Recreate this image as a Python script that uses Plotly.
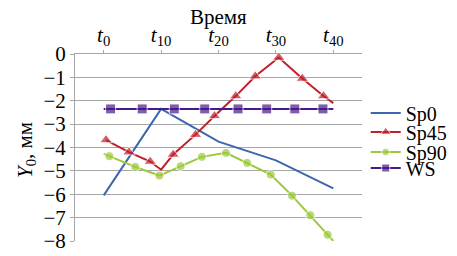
import plotly.graph_objects as go

# ---- data ----
t_ticks = [0, 10, 20, 30, 40]
t_labels = ["<i>t</i><sub>0</sub>", "<i>t</i><sub>10</sub>", "<i>t</i><sub>20</sub>",
            "<i>t</i><sub>30</sub>", "<i>t</i><sub>40</sub>"]
y_ticks = [0, -1, -2, -3, -4, -5, -6, -7, -8]

sp0_t = [0, 10, 20, 30, 40]
sp0_y = [-6.05, -2.35, -3.75, -4.55, -5.75]

sp45_t = [0.4, 4.4, 8.1, 10, 12.1, 16, 19.3, 23, 26.4, 30.5, 34.6, 38.3, 40]
sp45_y = [-3.68, -4.2, -4.6, -4.95, -4.3, -3.45, -2.65, -1.8, -0.95, -0.15, -1.05, -1.8, -2.1]
sp45_marked = [1, 1, 1, 0, 1, 1, 1, 1, 1, 1, 1, 1, 0]

sp90_t = [0, 1, 5.5, 9.7, 13.4, 17.1, 21.3, 25, 29.1, 32.8, 36, 39, 40]
sp90_y = [-4.27, -4.37, -4.83, -5.2, -4.8, -4.4, -4.23, -4.66, -5.16, -6.06, -6.9, -7.73, -8.0]
sp90_marked = [0, 1, 1, 1, 1, 1, 1, 1, 1, 1, 1, 1, 0]

ws_t = [0, 1.2, 6.7, 12.3, 17.6, 23.4, 28.4, 33.3, 38.2, 40]
ws_y = [-2.35, -2.35, -2.35, -2.35, -2.35, -2.35, -2.35, -2.35, -2.35, -2.35]
ws_marked = [0, 1, 1, 1, 1, 1, 1, 1, 1, 0]

FONT = "Liberation Serif"
C_SP0 = "#3D66B0"
C_SP45 = "#C0202A"
C_SP90 = "#9BC93A"
C_WS = "#47198A"
GRID = "#A6A6A6"

fig = go.Figure()
fig.add_trace(go.Scatter(x=sp0_t, y=sp0_y, name="Sp0", mode="lines",
                         line=dict(color=C_SP0, width=2), legend="legend",
                         showlegend=True, cliponaxis=False))
fig.add_trace(go.Scatter(x=sp45_t, y=sp45_y, name="Sp45", mode="lines+markers",
                         line=dict(color=C_SP45, width=2),
                         marker=dict(symbol="triangle-up", color=C_SP45,
                                     size=[11 * m for m in sp45_marked]),
                         legend="legend2", showlegend=True, cliponaxis=False))
fig.add_trace(go.Scatter(x=sp90_t, y=sp90_y, name="Sp90", mode="lines+markers",
                         line=dict(color=C_SP90, width=2),
                         marker=dict(symbol="circle", color=C_SP90,
                                     size=[9 * m for m in sp90_marked]),
                         legend="legend3", showlegend=True, cliponaxis=False))
fig.add_trace(go.Scatter(x=ws_t, y=ws_y, name="WS", mode="lines+markers",
                         line=dict(color=C_WS, width=2),
                         marker=dict(symbol="square", color=C_WS,
                                     size=[10 * m for m in ws_marked]),
                         legend="legend4", showlegend=True, cliponaxis=False))

H0, H1 = 46, 233  # plot area top/bottom in px


def py(pix):
    return (H1 - pix) / (H1 - H0)


leg_common = dict(x=1.013, xanchor="left", yanchor="middle",
                  font=dict(family=FONT, size=20, color="black"),
                  bgcolor="rgba(0,0,0,0)", borderwidth=0, itemwidth=30)

fig.update_layout(
    width=457, height=256,
    showlegend=True,
    margin=dict(l=67, r=90, t=46, b=23),
    paper_bgcolor="white", plot_bgcolor="white",
    font=dict(family=FONT, size=21, color="black"),
    xaxis=dict(side="top", range=[-5, 45], tickvals=t_ticks, ticktext=t_labels,
               showgrid=False, zeroline=False, showline=True, linecolor=GRID,
               linewidth=1, ticks="outside", ticklen=3, tickcolor=GRID,
               tickfont=dict(family=FONT, size=21, color="black")),
    yaxis=dict(range=[-8, 0], tickvals=y_ticks, showgrid=True, gridcolor=GRID,
               gridwidth=1, zeroline=False, showline=True, linecolor=GRID,
               linewidth=1, ticks="outside", ticklen=4, tickcolor=GRID,
               tickfont=dict(family=FONT, size=21, color="black")),
    legend=dict(y=py(105), **leg_common),
    legend2=dict(y=py(124), **leg_common),
    legend3=dict(y=py(144), **leg_common),
    legend4=dict(y=py(160), **leg_common),
    annotations=[
        dict(text="Время", x=20, xref="x", y=1, yref="paper", yshift=37,
             showarrow=False, xanchor="center", yanchor="middle",
             font=dict(family=FONT, size=21, color="black")),
        dict(text="<i>Y</i><sub>0</sub>, мм", x=0, xref="paper", xshift=-49,
             y=py(142), yref="paper", textangle=-90, showarrow=False,
             xanchor="center", yanchor="middle",
             font=dict(family=FONT, size=21, color="black")),
    ],
)

fig.write_html("out.html")
